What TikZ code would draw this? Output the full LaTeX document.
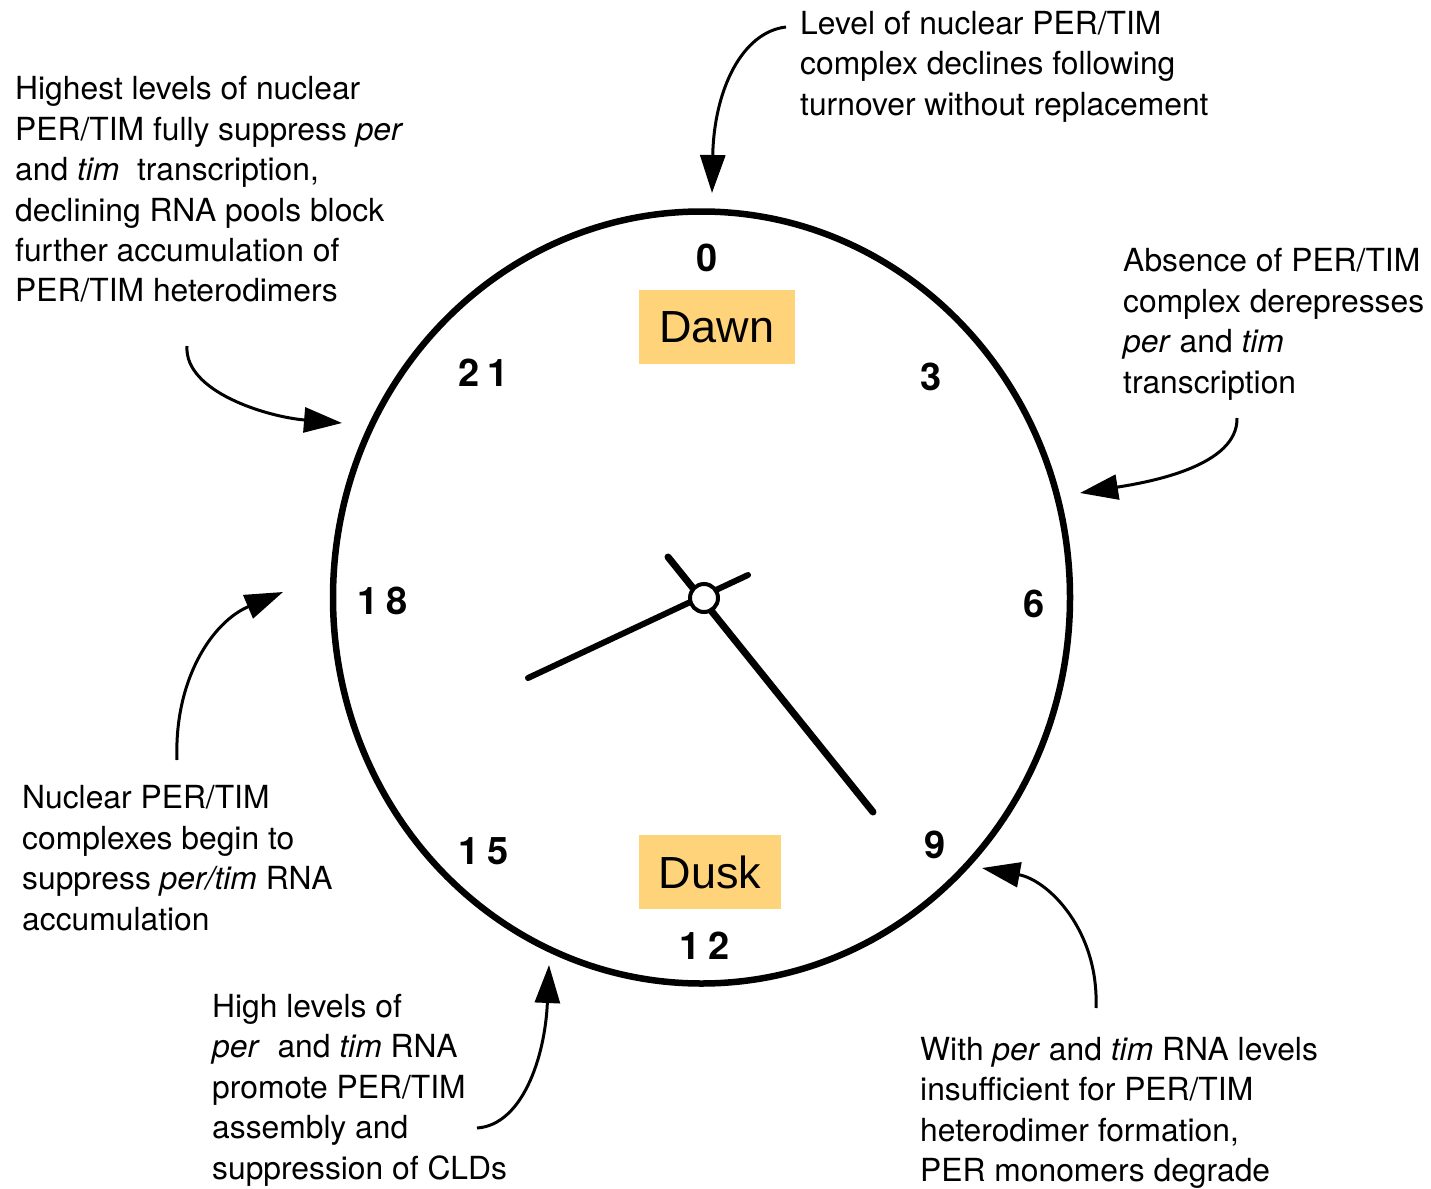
\documentclass[tikz,border=0pt]{standalone}
\usepackage{fontspec}
\setmainfont{TeX Gyre Heros}
\newfontfamily\dayfont{Liberation Sans}
\usetikzlibrary{arrows.meta}
\definecolor{boxfill}{RGB}{255,211,122}
\begin{document}
\begin{tikzpicture}[x=1pt,y=-1pt,
  note/.style={anchor=north west, inner sep=0pt, align=left, font=\fontsize{31.8}{40.4}\selectfont},
  hourlabel/.style={inner sep=0pt, font=\fontsize{38}{40}\selectfont\bfseries},
  daybox/.style={fill=boxfill, inner sep=0pt, font=\dayfont\fontsize{45}{50}\selectfont},
  pointer/.style={line width=3pt, -{Triangle[length=38pt,width=25pt]}},
  hand/.style={line width=7pt, line cap=round}]
\useasboundingbox[fill=white] (0,0) rectangle (1431,1188);

% clock face
\draw[line width=6.5pt] (701.5,597.5) ellipse [x radius=368.5pt, y radius=386pt];

% hour labels
\node[hourlabel] (h0)  at (707,258) {0};
\node[hourlabel] (h3)  at (931,377) {3};
\node[hourlabel] (h6)  at (1034,604) {6};
\node[hourlabel] (h9)  at (935,845) {9};
\node[hourlabel] (h12) at (705,946) {1\kern8pt2};
\node[hourlabel] (h15) at (484,851) {1\kern8pt5};
\node[hourlabel] (h18) at (383,601) {1\kern8pt8};
\node[hourlabel] (h21) at (484,373) {2\kern8pt1};

% dawn / dusk
\node[daybox, minimum width=156pt, minimum height=74pt] (dawn) at (717,327) {Dawn};
\node[daybox, minimum width=142pt, minimum height=74pt] (dusk) at (710,872) {Dusk};

% hands
\coordinate (hub) at (704,598);
\coordinate (hourA) at (528,678);
\coordinate (hourB) at (748,575);
\coordinate (minA) at (668,557);
\coordinate (minB) at (873,812);
\draw[hand, line width=6pt] (hourA) -- (hourB);
\draw[hand] (minA) -- (minB);
\draw[line width=4pt, fill=white] (hub) circle [radius=14pt];

% notes
\node[note] (ntl) at (15,76.5) {Highest levels of nuclear\\PER/TIM fully suppress \textit{per}\\and \textit{tim}\ \ transcription,\\declining RNA pools block\\further accumulation of\\PER/TIM heterodimers};
\node[note] (ntop) at (800,11) {Level of nuclear PER/TIM\\complex declines following\\turnover without replacement};
\node[note] (nright) at (1123,248.5) {Absence of PER/TIM\\complex derepresses\\\textit{per} and \textit{tim}\\transcription};
\node[note] (nleft) at (22,785.5) {Nuclear PER/TIM\\complexes begin to\\suppress \textit{per/tim} RNA\\accumulation};
\node[note] (nbl) at (212,994) {High levels of\\\textit{per}\ \ and \textit{tim} RNA\\promote PER/TIM\\assembly and\\suppression of CLDs};
\node[note] (nbr) at (920,1037) {With \textit{per} and \textit{tim} RNA levels\\insufficient for PER/TIM\\heterodimer formation,\\PER monomers degrade};

% arrow end points
\coordinate (s1) at (786,27);   \coordinate (t1) at (712,193);
\coordinate (s2) at (187,346);  \coordinate (t2) at (342,423);
\coordinate (s3) at (1237,418); \coordinate (t3) at (1080,493);
\coordinate (s4) at (177,760);  \coordinate (t4) at (283,592);
\coordinate (s5) at (477,1128); \coordinate (t5) at (549,965);
\coordinate (s6) at (1096,1008);\coordinate (t6) at (982,868);

\draw[pointer] (s1) .. controls (742,32) and (714,90) .. (t1);
\draw[pointer] (s2) .. controls (184,392) and (268,417) .. (t2);
\draw[pointer] (s3) .. controls (1238,466) and (1150,482) .. (t3);
\draw[pointer] (s4) .. controls (174,680) and (212,622) .. (t4);
\draw[pointer] (s5) .. controls (522,1125) and (545,1058) .. (t5);
\draw[pointer] (s6) .. controls (1099,930) and (1048,880) .. (t6);
\end{tikzpicture}
\end{document}
